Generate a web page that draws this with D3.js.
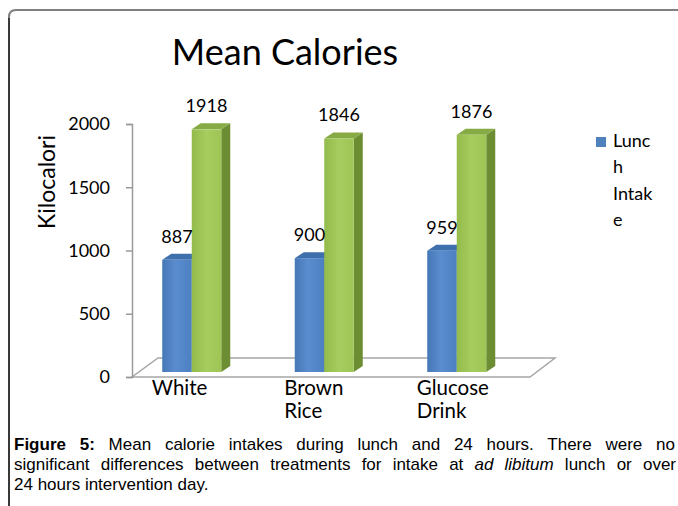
<!DOCTYPE html>
<html>
<head>
<meta charset="utf-8">
<script src="https://cdn.jsdelivr.net/npm/d3@7"></script>
<style>
  html, body { margin: 0; padding: 0; background: #fff; }
  svg { display: block; }
</style>
</head>
<body>
<script>
// ---------- data ----------
const categories = ["White", "Brown Rice", "Glucose Drink"];
const seriesNames = ["Lunch Intake", "24 Hours Intake"];
const lunchIntake = [887, 900, 959];
const totalIntake = [1918, 1846, 1876];
const yTicks = [0, 500, 1000, 1500, 2000];
const chartTitle = "Mean Calories";
const yAxisTitle = "Kilocalori";
const captionBold = "Figure 5:";
const captionLine1 = " Mean calorie intakes during lunch and 24 hours. There were no";
const captionLine2a = "significant differences between treatments for intake at ";
const captionLine2i = "ad libitum";
const captionLine2b = " lunch or over";
const captionLine3 = "24 hours intervention day.";

// ---------- setup ----------
const W = 678, H = 506;
const svg = d3.select("body").append("svg").attr("width", W).attr("height", H);
const defs = svg.append("defs");
const font = "Lato, 'Open Sans', sans-serif";

function grad(id, stops) {
  const g = defs.append("linearGradient").attr("id", id)
    .attr("x1", "0%").attr("x2", "100%").attr("y1", "0%").attr("y2", "0%");
  stops.forEach(s => g.append("stop").attr("offset", s[0]).attr("stop-color", s[1]));
}
grad("blueFront", [[0, "#4677b6"], [0.45, "#5a8dcf"], [1, "#4c80c1"]]);
grad("greenFront", [[0, "#93bb4a"], [0.5, "#a7cc5f"], [1, "#9ec556"]]);

const colors = {
  front: ["url(#blueFront)", "url(#greenFront)"],
  top: ["#3f70ae", "#86ab44"],
  side: ["#35639e", "#6d8d33"]
};

// frame
svg.append("path")
  .attr("d", `M9,${H} L9,17 Q9,10 16,10 L${W},10`)
  .attr("fill", "none").attr("stroke", "#808080").attr("stroke-width", 2);
svg.append("line").attr("x1", 9).attr("x2", 9).attr("y1", 18).attr("y2", H)
  .attr("stroke", "#222").attr("stroke-width", 1.5);

// scales
const y = d3.scaleLinear().domain([0, 2000]).range([377, 124]);
const depthX = 9, depthY = -6;     // 3D bar depth
const planeShiftY = -5;            // bar plane offset from front plane
const x = d3.scaleBand().domain(categories).range([125.5, 523]).padding(0);
const groupW = 59;
const xs = d3.scaleBand().domain(seriesNames).range([0, groupW]).padding(0);

// floor
const floorFront = [132, 530], floorBack = [158, 555];
svg.append("path")
  .attr("d", `M${floorFront[0]},${y(0)} L${floorFront[1]},${y(0)} L${floorBack[1]},${y(0) - 19} L${floorBack[0]},${y(0) - 19} Z`)
  .attr("fill", "#fff").attr("stroke", "#a6a6a6").attr("stroke-width", 1.5);

// y axis
const axisG = svg.append("g").attr("transform", "translate(132,0)");
axisG.call(d3.axisLeft(y).tickValues(yTicks).tickSize(6).tickPadding(16).tickFormat(d3.format("d")));
axisG.select(".domain").attr("stroke", "#9a9a9a").attr("stroke-width", 1.5);
axisG.selectAll(".tick line").attr("stroke", "#9a9a9a").attr("stroke-width", 1.5);
axisG.selectAll(".tick text").attr("font-family", font).attr("font-size", 18).attr("fill", "#000");

// bars
const seriesValues = [lunchIntake, totalIntake];
const barsG = svg.append("g");
categories.forEach((c, ci) => {
  const center = x(c) + x.bandwidth() / 2;
  const gx = center - groupW / 2;
  seriesValues.forEach((vals, si) => {
    const v = vals[ci];
    const x0 = gx + xs(seriesNames[si]);
    const bw = xs.bandwidth();
    const top = y(v) + planeShiftY;
    const base = y(0) + planeShiftY;
    barsG.append("path")
      .attr("d", `M${x0 + bw},${top} L${x0 + bw + depthX},${top + depthY} L${x0 + bw + depthX},${base + depthY} L${x0 + bw},${base} Z`)
      .attr("fill", colors.side[si]);
    barsG.append("path")
      .attr("d", `M${x0},${top} L${x0 + depthX},${top + depthY} L${x0 + bw + depthX},${top + depthY} L${x0 + bw},${top} Z`)
      .attr("fill", colors.top[si]);
    barsG.append("rect")
      .attr("x", x0).attr("y", top).attr("width", bw).attr("height", base - top)
      .attr("fill", colors.front[si]);
    svg.append("text")
      .attr("x", x0 + bw / 2).attr("y", top - 17)
      .attr("text-anchor", "middle")
      .attr("font-family", font).attr("font-size", 18).attr("fill", "#000")
      .text(v);
  });
});

// category labels (wrapped, left aligned block)
categories.forEach((c, ci) => {
  const center = x(c) + x.bandwidth() / 2;
  c.split(" ").forEach((ln, li) => {
    svg.append("text")
      .attr("x", center - 40).attr("y", 395 + li * 23)
      .attr("font-family", font).attr("font-size", 20.5).attr("fill", "#000")
      .text(ln);
  });
});

// y axis title
svg.append("text")
  .attr("transform", "translate(46,182) rotate(-90)")
  .attr("text-anchor", "middle").attr("dominant-baseline", "central")
  .attr("font-family", font).attr("font-size", 23).attr("fill", "#000")
  .text(yAxisTitle);

// title
svg.append("text")
  .attr("x", 285).attr("y", 65).attr("text-anchor", "middle")
  .attr("font-family", font).attr("font-size", 36).attr("fill", "#000")
  .text(chartTitle);

// legend (only first series shown, wrapped by width)
const legG = svg.append("g");
legG.append("rect").attr("x", 596).attr("y", 137).attr("width", 10).attr("height", 10).attr("fill", "#4f81bd");
(function wrapLegend(label, maxW) {
  const probe = legG.append("text").attr("font-family", font).attr("font-size", 18);
  const lines = [];
  label.split(" ").forEach(word => {
    let cur = "";
    for (const ch of word) {
      probe.text(cur + ch);
      if (probe.node().getComputedTextLength() > maxW && cur.length) { lines.push(cur); cur = ch; }
      else cur += ch;
    }
    lines.push(cur);
  });
  probe.remove();
  lines.forEach((ln, i) => legG.append("text")
    .attr("x", 613).attr("y", 147 + i * 26.3)
    .attr("font-family", font).attr("font-size", 18).attr("fill", "#000")
    .text(ln));
})(seriesNames[0], 46);

// caption
const capFont = "'Liberation Sans', Arial, sans-serif";
const capSize = 17;
function captionLine(yPos, parts, target) {
  const t = svg.append("text").attr("x", 14).attr("y", yPos)
    .attr("font-family", capFont).attr("font-size", capSize).attr("fill", "#000");
  parts.forEach(p => {
    const ts = t.append("tspan").text(p.text);
    if (p.bold) ts.attr("font-weight", "bold");
    if (p.italic) ts.attr("font-style", "italic");
  });
  if (target) {
    const natural = t.node().getComputedTextLength();
    const full = parts.map(p => p.text).join("");
    const spaces = (full.match(/ /g) || []).length;
    if (spaces > 0) t.attr("word-spacing", Math.max(0, (target - natural) / spaces));
  }
  return t;
}
captionLine(450, [{ text: captionBold, bold: true }, { text: captionLine1 }], 661);
captionLine(470, [{ text: captionLine2a }, { text: captionLine2i, italic: true }, { text: captionLine2b }], 662);
captionLine(489.5, [{ text: captionLine3 }], null);
</script>
</body>
</html>
